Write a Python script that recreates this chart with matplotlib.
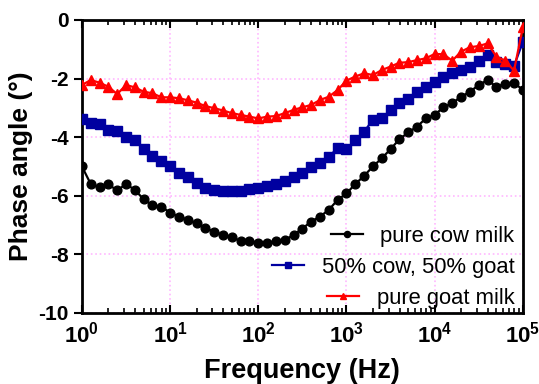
import numpy as np
import matplotlib
matplotlib.use('Agg')
import matplotlib.pyplot as plt
from matplotlib.ticker import FixedLocator, FixedFormatter, LogLocator, NullFormatter

plt.rcParams['font.family'] = ['Liberation Sans', 'DejaVu Sans']
plt.rcParams['mathtext.fontset'] = 'custom'
plt.rcParams['mathtext.rm'] = 'Liberation Sans:bold'
plt.rcParams['mathtext.bf'] = 'Liberation Sans:bold'
plt.rcParams['axes.unicode_minus'] = False

# frequency: 10 points per decade, 1 Hz .. 100 kHz
freq = 10 ** (np.arange(51) / 10)

cow = [-5.0, -5.6, -5.71, -5.61, -5.82, -5.6, -5.8, -6.12, -6.33, -6.37,
       -6.58, -6.71, -6.82, -6.94, -7.11, -7.22, -7.34, -7.42, -7.54, -7.56,
       -7.6, -7.62, -7.54, -7.51, -7.34, -7.12, -6.88, -6.71, -6.48, -6.14,
       -5.92, -5.6, -5.32, -5.0, -4.72, -4.41, -4.07, -3.84, -3.64, -3.36,
       -3.24, -2.98, -2.84, -2.62, -2.45, -2.22, -2.05, -2.28, -2.18, -2.14,
       -2.39]
mix = [-3.39, -3.53, -3.55, -3.75, -3.79, -4.0, -4.1, -4.41, -4.64, -4.83,
       -4.98, -5.21, -5.36, -5.55, -5.72, -5.8, -5.84, -5.84, -5.84, -5.78,
       -5.72, -5.67, -5.6, -5.48, -5.37, -5.23, -5.03, -4.87, -4.66, -4.38,
       -4.41, -4.1, -3.81, -3.41, -3.36, -3.07, -2.84, -2.69, -2.45, -2.28,
       -2.11, -1.96, -1.82, -1.71, -1.59, -1.39, -1.19, -1.42, -1.5, -1.57,
       -0.75]
goat = [-2.22, -2.05, -2.14, -2.28, -2.53, -2.22, -2.3, -2.45, -2.5, -2.64,
        -2.64, -2.67, -2.74, -2.82, -2.94, -3.01, -3.09, -3.18, -3.24, -3.3,
        -3.36, -3.3, -3.28, -3.18, -3.07, -2.98, -2.9, -2.73, -2.62, -2.39,
        -2.07, -1.93, -1.82, -1.88, -1.71, -1.59, -1.46, -1.44, -1.37, -1.31,
        -1.16, -1.17, -1.39, -1.08, -0.93, -0.89, -0.8, -1.25, -1.39, -1.73,
        -0.25]

xticks = [1, 10, 100, 1000, 1e4, 1e5]
xtick_labels = ['$10^{0}$', '$10^{1}$', '$10^{2}$', '$10^{3}$', '$10^{4}$', '$10^{5}$']
yticks = [-10, -8, -6, -4, -2, 0]

fig = plt.figure(figsize=(5.39, 3.84), dpi=100)
ax = fig.add_axes([0.152, 0.185, 0.818, 0.763])

ax.plot(freq, cow, '-o', color='black', lw=1.6, ms=6.3, label='pure cow milk', zorder=3)
ax.plot(freq, mix, '-s', color='#0000A0', lw=1.6, ms=6.8, label='50% cow, 50% goat', zorder=3)
ax.plot(freq, goat, '-^', color='#FF0000', lw=1.6, ms=6.8, label='pure goat milk', zorder=3)

ax.set_xscale('log')
ax.set_xlim(1, 1e5)
ax.set_ylim(-10, 0)
ax.xaxis.set_major_locator(FixedLocator(xticks))
ax.xaxis.set_major_formatter(FixedFormatter(xtick_labels))
ax.xaxis.set_minor_locator(LogLocator(base=10, subs=np.arange(2, 10)))
ax.xaxis.set_minor_formatter(NullFormatter())
ax.set_yticks(yticks)
ax.set_yticklabels([str(v) for v in yticks])

ax.grid(True, which='major', color='#FFB8FF', linestyle=':', linewidth=1.2)
for s in ax.spines.values():
    s.set_linewidth(2)

ax.tick_params(axis='x', which='major', direction='in', length=6, width=1.5,
               top=True, labelsize=16, pad=6)
ax.tick_params(axis='x', which='minor', direction='in', length=3.5, width=1.2, top=True)
ax.tick_params(axis='y', which='major', direction='out', length=6, width=1.5, labelsize=15)
for lab in ax.get_yticklabels():
    lab.set_fontweight('bold')

ax.set_xlabel('Frequency (Hz)', fontsize=19.5, fontweight='bold', labelpad=8)
ax.set_ylabel('Phase angle (°)', fontsize=19, fontweight='bold', labelpad=4)

leg = ax.legend(loc='lower right', bbox_to_anchor=(1.011, -0.03), frameon=False,
                fontsize=15.8, handlelength=1.45, markerscale=0.7, borderaxespad=0.2,
                labelspacing=0.45, handletextpad=0.8)
# entries are right-aligned in the original
for col in leg._legend_handle_box.get_children():
    col.align = 'right'

plt.savefig('out.png', dpi=100)
